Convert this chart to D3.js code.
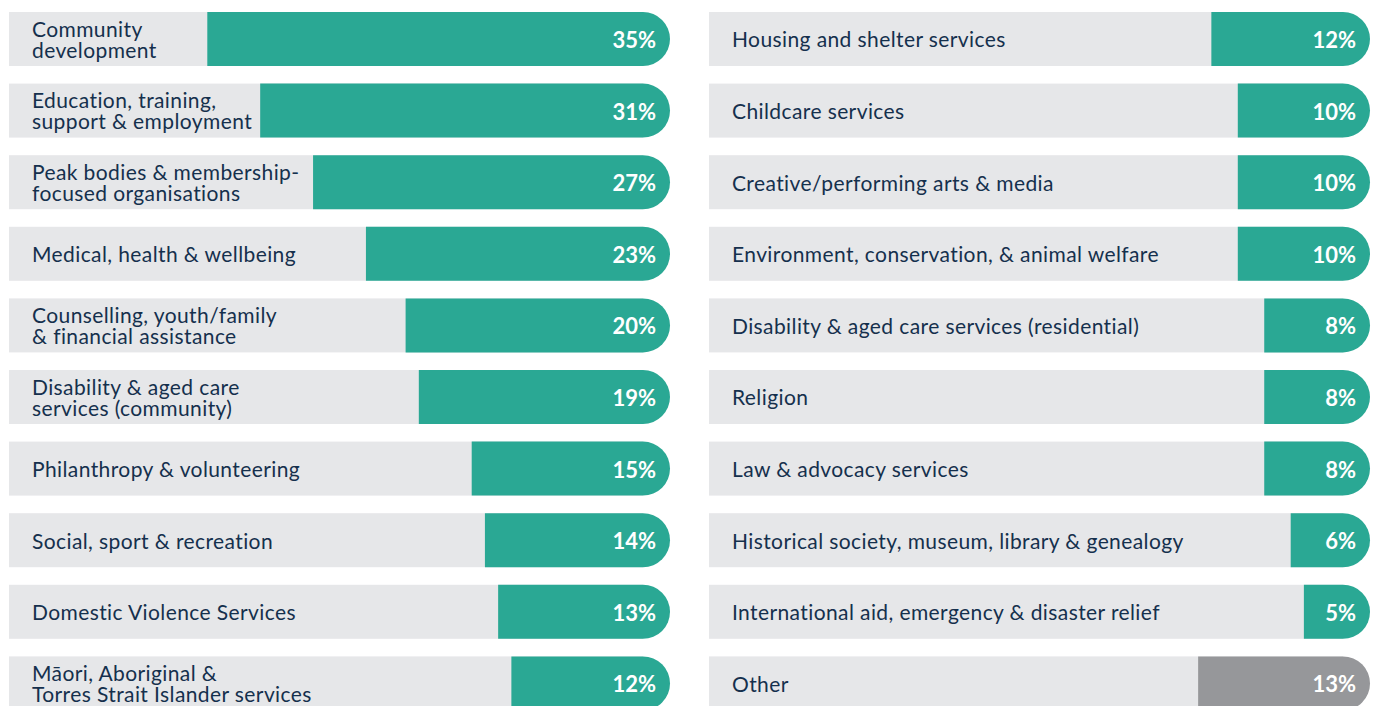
<!DOCTYPE html>
<html>
<head>
<meta charset="utf-8">
<script src="https://cdn.jsdelivr.net/npm/d3@7"></script>
<style>
  body { margin: 0; background: #fff; }
  svg { display: block; }
  .label { font-family: Lato, sans-serif; font-size: 21px; letter-spacing: 0.4px; fill: #15304d; }
  .value { font-family: Lato, sans-serif; font-size: 22px; font-weight: 700; fill: #fff; }
</style>
</head>
<body>
<svg id="chart" width="1378" height="706"></svg>
<script>
// left column
var leftCategories = [
  ["Community", "development"],
  ["Education, training,", "support & employment"],
  ["Peak bodies & membership-", "focused organisations"],
  ["Medical, health & wellbeing"],
  ["Counselling, youth/family", "& financial assistance"],
  ["Disability & aged care", "services (community)"],
  ["Philanthropy & volunteering"],
  ["Social, sport & recreation"],
  ["Domestic Violence Services"],
  ["Māori, Aboriginal &", "Torres Strait Islander services"]
];
var leftValues = [35, 31, 27, 23, 20, 19, 15, 14, 13, 12];

// right column
var rightCategories = [
  ["Housing and shelter services"],
  ["Childcare services"],
  ["Creative/performing arts & media"],
  ["Environment, conservation, & animal welfare"],
  ["Disability & aged care services (residential)"],
  ["Religion"],
  ["Law & advocacy services"],
  ["Historical society, museum, library & genealogy"],
  ["International aid, emergency & disaster relief"],
  ["Other"]
];
var rightValues = [12, 10, 10, 10, 8, 8, 8, 6, 5, 13];

var svg = d3.select("#chart");

var y = d3.scaleBand()
  .domain(d3.range(10))
  .range([12, 710.4])
  .paddingInner(0.2458)
  .paddingOuter(0);

var x = d3.scaleLinear().domain([0, 50]).range([0, 661]);

function column(x0, cats, vals, isOther) {
  var g = svg.append("g").attr("transform", "translate(" + x0 + ",0)");
  var h = y.bandwidth(), r = h / 2, W = x(50);

  var row = g.selectAll("g.row")
    .data(vals)
    .enter().append("g")
    .attr("class", "row")
    .attr("transform", function(d, i) { return "translate(0," + y(i) + ")"; });

  row.append("rect")
    .attr("x", 0).attr("y", 0)
    .attr("width", W - r).attr("height", h)
    .attr("fill", "#e6e7e9");

  row.append("path")
    .attr("d", function(d) {
      var x1 = W - x(d);
      return "M" + x1 + ",0H" + (W - r) + "A" + r + "," + r + " 0 0 1 " + (W - r) + "," + h + "H" + x1 + "Z";
    })
    .attr("fill", function(d, i) { return isOther && isOther(i) ? "#96979a" : "#2aa894"; });

  row.append("text")
    .attr("class", "label")
    .each(function(d, i) {
      var lines = cats[i];
      var t = d3.select(this);
      var start = h / 2 + 1 - (lines.length - 1) * 10.5;
      lines.forEach(function(l, k) {
        t.append("tspan").attr("x", 23).attr("y", start + k * 21).attr("dy", "0.35em").text(l);
      });
    });

  row.append("text")
    .attr("class", "value")
    .attr("x", W - 14)
    .attr("y", h / 2 + 1)
    .attr("dy", "0.36em")
    .attr("text-anchor", "end")
    .text(function(d) { return d + "%"; });
}

column(9, leftCategories, leftValues);
column(709, rightCategories, rightValues, function(i) { return rightCategories[i][0] === "Other"; });
</script>
</body>
</html>
